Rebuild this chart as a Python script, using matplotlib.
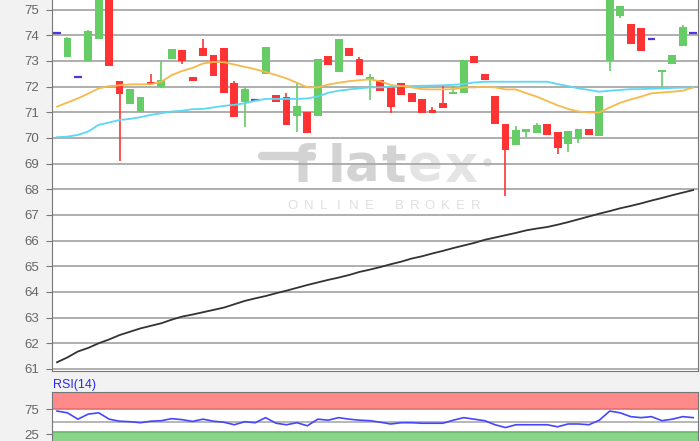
import numpy as np
import matplotlib
matplotlib.use("Agg")
import matplotlib.pyplot as plt

plt.rcParams['font.family'] = ['Liberation Sans', 'DejaVu Sans']

# ---- data ----
opens = [74.10, 73.15, 72.38, 73.00, 73.86, 75.80, 72.20, 71.31, 71.00, 72.19,
         71.97, 73.08, 73.44, 72.38, 73.50, 73.25, 73.50, 72.15, 71.41, 71.49,
         72.48, 71.67, 71.60, 70.86, 71.03, 70.87, 73.19, 72.57, 73.50, 73.09,
         72.25, 72.25, 71.97, 72.15, 71.74, 71.50, 71.09, 71.35, 71.70, 71.76,
         73.19, 72.48, 71.65, 70.54, 69.71, 70.25, 70.21, 70.54, 70.23, 69.77,
         69.97, 70.34, 70.06, 73.00, 74.74, 74.45, 74.29, 73.84, 72.58, 72.87,
         73.58, 74.10]
closes = [74.10, 73.90, 72.38, 74.15, 75.80, 72.82, 71.72, 71.90, 71.58, 72.12,
          72.25, 73.48, 73.00, 72.23, 73.18, 72.41, 71.76, 70.83, 71.89, 71.49,
          73.54, 71.41, 70.51, 71.25, 70.21, 73.09, 72.83, 73.84, 73.18, 72.47,
          72.39, 71.84, 71.22, 71.67, 71.41, 70.99, 70.96, 71.15, 71.80, 73.05,
          72.92, 72.25, 70.55, 69.54, 70.29, 70.34, 70.51, 70.12, 69.61, 70.28,
          70.34, 70.10, 71.63, 75.80, 75.15, 73.67, 73.37, 73.84, 72.64, 73.25,
          74.32, 74.10]
highs = [74.10, 73.95, 72.38, 74.20, 75.80, 75.80, 72.22, 71.90, 71.58, 72.50,
         73.00, 73.48, 73.44, 72.38, 73.86, 73.25, 73.50, 72.20, 71.97, 71.49,
         73.54, 71.67, 71.74, 72.15, 71.03, 73.09, 73.19, 73.84, 73.50, 73.15,
         72.50, 72.25, 71.97, 72.15, 71.74, 71.50, 71.19, 72.02, 72.02, 73.05,
         73.19, 72.48, 71.65, 70.54, 70.48, 70.34, 70.60, 70.54, 70.23, 70.28,
         70.34, 70.34, 71.63, 75.80, 75.15, 74.45, 74.29, 73.84, 72.64, 73.25,
         74.40, 74.10]
lows = [74.10, 73.15, 72.38, 73.00, 73.86, 72.82, 69.09, 71.31, 71.00, 72.10,
        71.93, 73.08, 72.87, 72.23, 73.18, 72.41, 71.76, 70.83, 70.42, 71.49,
        72.48, 71.41, 70.51, 70.25, 70.21, 70.87, 72.83, 72.57, 73.18, 72.47,
        71.48, 71.84, 70.96, 71.67, 71.41, 70.99, 70.96, 71.15, 71.70, 71.76,
        72.92, 72.25, 70.55, 67.75, 69.71, 70.03, 70.21, 70.12, 69.39, 69.45,
        69.80, 70.10, 70.06, 72.61, 74.68, 73.67, 73.37, 73.84, 71.97, 72.87,
        73.58, 74.10]

ma_orange = [71.22, 71.38, 71.54, 71.73, 71.93, 72.02, 72.05, 72.09, 72.09, 72.09,
             72.19, 72.45, 72.61, 72.73, 72.90, 72.96, 72.95, 72.86, 72.77, 72.68,
             72.57, 72.45, 72.32, 72.15, 71.97, 71.97, 72.08, 72.15, 72.21, 72.25,
             72.28, 72.21, 72.06, 72.02, 71.97, 71.90, 71.89, 71.89, 71.90, 71.97,
             71.97, 71.99, 71.97, 71.89, 71.89, 71.74, 71.61, 71.44, 71.27, 71.13,
             71.03, 70.99, 70.99, 71.19, 71.37, 71.50, 71.61, 71.74, 71.77, 71.80,
             71.84, 71.97]
ma_cyan = [70.03, 70.05, 70.12, 70.25, 70.51, 70.60, 70.70, 70.74, 70.81, 70.90,
           70.96, 71.03, 71.06, 71.12, 71.13, 71.19, 71.25, 71.29, 71.35, 71.45,
           71.52, 71.52, 71.52, 71.52, 71.54, 71.61, 71.76, 71.84, 71.89, 71.93,
           71.97, 71.97, 71.99, 72.02, 72.02, 72.03, 72.04, 72.05, 72.07, 72.10,
           72.16, 72.19, 72.19, 72.19, 72.19, 72.19, 72.19, 72.19, 72.10, 72.02,
           71.93, 71.87, 71.80, 71.84, 71.87, 71.90, 71.90, 71.92, 71.93, 71.95,
           71.96, 71.97]
ma_dark = [61.26, 61.45, 61.68, 61.82, 62.00, 62.15, 62.32, 62.45, 62.58, 62.68,
           62.78, 62.92, 63.04, 63.12, 63.21, 63.30, 63.39, 63.52, 63.65, 63.75,
           63.84, 63.95, 64.05, 64.16, 64.27, 64.37, 64.47, 64.56, 64.66, 64.78,
           64.87, 64.97, 65.08, 65.18, 65.30, 65.39, 65.50, 65.60, 65.71, 65.81,
           65.91, 66.03, 66.12, 66.21, 66.30, 66.40, 66.47, 66.53, 66.62, 66.72,
           66.83, 66.94, 67.05, 67.15, 67.26, 67.35, 67.45, 67.56, 67.66, 67.77,
           67.87, 67.97]
rsi_vals = [71, 67.5, 55, 65, 67.5, 55, 51, 50, 48, 51,
            52, 56, 54, 50.6, 55, 51, 49, 44, 50, 48,
            58, 47, 44, 48, 42, 55, 53, 58, 55, 53,
            52, 49, 45.5, 48, 48, 47, 47, 47, 53, 58,
            55, 52, 44, 38.5, 44, 44, 44, 44, 40, 45.5,
            45.5, 44, 53, 71, 67.5, 60, 58, 60, 52, 55,
            60, 58]
price_ticks = list(range(61, 76))
rsi_ticks = [75, 25]
rsi_label = "RSI(14)"
wm_big = "flatex"
wm_small = "ONLINE BROKER"

# ---- figure ----
W, H = 700, 441
fig = plt.figure(figsize=(W / 100, H / 100), dpi=100, facecolor='#f2f2f2')
L, R = 52, 698
ax = fig.add_axes([L / W, 1 - 371 / H, (R - L) / W, 371 / H])
rx = fig.add_axes([L / W, 0, (R - L) / W, (H - 392) / H])

n = len(opens)
x = np.arange(n)
o = np.array(opens); c = np.array(closes); hi = np.array(highs); lo = np.array(lows)

GREEN, RED, DOJI = '#66cc66', '#ff3333', '#5533dd'
bw = 0.75
for i in range(n):
    if abs(c[i] - o[i]) < 1e-9:
        ax.hlines(o[i], i - bw / 2, i + bw / 2, color=DOJI, lw=1.6, zorder=4)
        if hi[i] > o[i] or lo[i] < o[i]:
            ax.vlines(i, lo[i], hi[i], color=DOJI, lw=1.1, zorder=3)
        continue
    col = GREEN if c[i] > o[i] else RED
    ax.vlines(i, lo[i], hi[i], color=col, lw=1.2, zorder=3)
    ax.bar(i, abs(c[i] - o[i]), bottom=min(o[i], c[i]), width=bw,
           color=col, linewidth=0, zorder=4)

ax.plot(x, ma_dark, color='#333333', lw=1.3, zorder=5)
ax.plot(x, ma_cyan, color='#5ad8f5', lw=1.3, zorder=5)
ax.plot(x, ma_orange, color='#f7b94a', lw=1.3, zorder=5)

ax.set_xlim(-0.48, 61.46)
ax.set_ylim(60.92, 75.374)
ax.set_yticks(price_ticks)
ax.set_yticklabels([str(t) for t in price_ticks])
ax.set_xticks([])
ax.set_axisbelow(True)
ax.grid(axis='y', color='#a8a8a8', lw=1.3)
for s in ['left', 'right', 'bottom']:
    ax.spines[s].set_color('#777777')
ax.spines['top'].set_visible(False)
ax.tick_params(axis='y', length=4, color='#777777', labelcolor='#666666',
               labelsize=9.5, pad=5)

# watermark
def px(xp, yp):
    return ((xp - L) / (R - L), (371 - yp) / 371)

ax.plot(*zip(px(262, 155.5), px(312, 155.5)), transform=ax.transAxes,
        color='#d3d3d3', lw=6, solid_capstyle='round', zorder=0.3)
letters = [('f', 304, '#d3d3d3'), ('l', 337, '#d3d3d3'), ('a', 362, '#d3d3d3'),
           ('t', 394, '#d3d3d3'), ('e', 425, '#e4e4e4'), ('x', 461, '#e4e4e4')]
for (ch, xp, colr), _ in zip(letters, wm_big):
    ax.text(*px(xp, 182), ch, transform=ax.transAxes, ha='center', va='baseline',
            fontsize=37, color=colr, family='DejaVu Sans', fontweight='bold',
            zorder=0.3)
ax.plot(*px(487, 162), 'o', transform=ax.transAxes, color='#e0e0e0', ms=5, zorder=0.3)
for k, ch in enumerate(wm_small):
    ax.text(*px(293 + k * 15.2, 206), ch, transform=ax.transAxes, ha='center',
            va='center', fontsize=9.5, color='#e0e0e0', zorder=0.3)

# RSI panel
rx.set_xlim(-0.48, 61.46)
rx.set_ylim(12, 108.5)
rx.axhspan(75, 120, color='#ff8a8a', lw=0)
rx.axhline(75, color='#e07070', lw=1.2)
rx.axhspan(0, 30, color='#88d488', lw=0)
rx.axhline(30, color='#66b866', lw=1.2)
rx.axhline(50, color='#aaaaaa', lw=1.2)
rx.plot(x, rsi_vals, color='#4646ff', lw=1.2)
rx.set_xticks([])
rx.set_yticks(rsi_ticks)
rx.set_yticklabels([str(t) for t in rsi_ticks])
for s in ['left', 'right', 'top']:
    rx.spines[s].set_color('#777777')
rx.spines['bottom'].set_visible(False)
rx.tick_params(axis='y', length=4, color='#777777', labelcolor='#666666',
               labelsize=9.5, pad=5)

fig.text(53 / W, 1 - 385 / H, rsi_label, color='#2a2aee', fontsize=9, va='center')

fig.savefig('out.png', dpi=100, facecolor=fig.get_facecolor())
